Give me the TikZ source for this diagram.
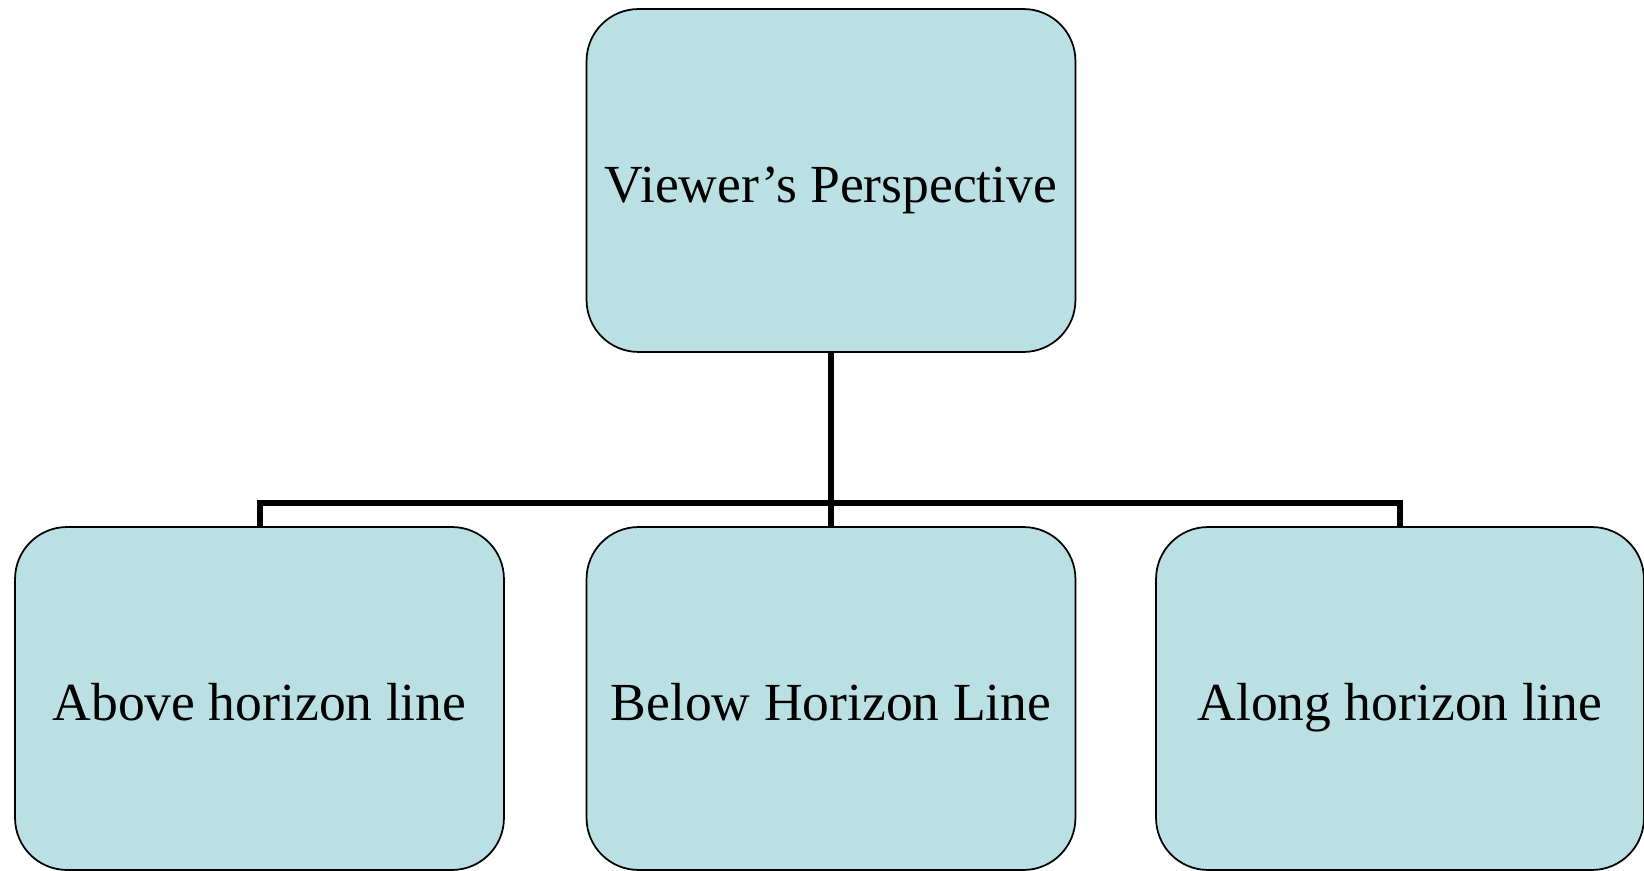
\documentclass[tikz,border=0pt]{standalone}
\usepackage{fontspec}
\setmainfont{Liberation Serif}
\definecolor{boxfill}{HTML}{BBE0E3}
\tikzset{
  orgbox/.style={draw=black, line width=0.035cm, fill=boxfill, rounded corners=1.04cm,
    minimum width=9.78cm, minimum height=6.86cm, inner sep=0pt,
    text height=1.18cm, text depth=0.3cm,
    font=\fontsize{30.5}{36}\selectfont, align=center},
  link/.style={draw=black, line width=0.12cm}
}
\begin{document}
\begin{tikzpicture}[x=0.02cm, y=-0.02cm]
  \useasboundingbox (0,0) rectangle (1644,871);
  % level of the horizontal bar joining the three lower boxes
  \coordinate (bar) at (831,503);
  \node[orgbox] (root) at (831,180.5) {Viewer’s Perspective};
  \node[orgbox] (above) at (259.5,698.5) {Above horizon line};
  \node[orgbox] (below) at (831,698.5) {Below Horizon Line};
  \node[orgbox, minimum width=9.76cm] (along) at (1400,698.5) {Along horizon line};
  % hierarchy connectors
  \draw[link] (root.south) -- (below.north);
  \draw[link] (above.north) -- (above.north |- bar) -- (along.north |- bar) -- (along.north);
\end{tikzpicture}
\end{document}
